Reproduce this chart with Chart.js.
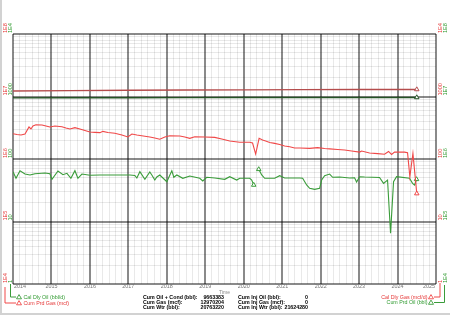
<!DOCTYPE html>
<html><head><meta charset="utf-8">
<script src="https://cdn.jsdelivr.net/npm/chart.js@4/dist/chart.umd.min.js"></script>
<style>html,body{margin:0;padding:0;background:#fff;overflow:hidden}canvas{display:block}</style>
</head><body><canvas id="c" width="450" height="315"></canvas>
<script>
// ---- data (decimal years) ----
const yearLabels = [2014,2015,2016,2017,2018,2019,2020,2021,2022,2023,2024,2025];

const gasRateT = [2014.000,2014.104,2014.208,2014.312,2014.416,2014.468,2014.519,2014.597,2014.753,2014.857,2014.961,2015.091,2015.273,2015.377,2015.481,2015.610,2015.740,2015.870,2016.000,2016.130,2016.260,2016.338,2016.468,2016.649,2016.831,2016.987,2017.091,2017.221,2017.429,2017.558,2017.688,2017.818,2017.948,2018.078,2018.338,2018.468,2018.597,2018.727,2018.987,2019.247,2019.429,2019.636,2019.896,2020.156,2020.230,2020.310,2020.400,2020.490,2020.570,2020.675,2020.805,2020.935,2021.065,2021.195,2021.325,2021.455,2021.714,2021.922,2022.104,2022.234,2022.442,2022.623,2022.805,2023.013,2023.065,2023.273,2023.481,2023.662,2023.766,2023.844,2023.922,2024.052,2024.182,2024.260,2024.320,2024.400,2024.500];
const gasRate  = [254,247,242,251,325,302,337,354,350,337,325,337,329,313,302,317,302,286,270,267,264,277,265,258,242,225,251,242,231,225,217,207,225,236,233,225,214,227,225,222,209,194,185,185,180,120,214,201,194,184,178,171,161,157,150,150,148,152,147,145,142,139,134,129,134,125,122,119,132,118,129,129,129,126,52,123,28];

const oilRateT = [2014.000,2014.078,2014.182,2014.312,2014.442,2014.571,2014.831,2014.961,2015.013,2015.169,2015.299,2015.403,2015.506,2015.610,2015.688,2015.792,2016.000,2016.260,2016.519,2016.779,2017.039,2017.169,2017.221,2017.299,2017.429,2017.558,2017.610,2017.688,2017.740,2017.818,2018.000,2018.130,2018.182,2018.260,2018.416,2018.597,2018.857,2018.935,2019.039,2019.247,2019.506,2019.636,2019.818,2019.896,2020.156,2020.208,2020.260,2020.320,2020.390,2020.468,2020.545,2020.805,2020.935,2021.065,2021.455,2021.532,2021.636,2021.714,2021.844,2021.974,2022.026,2022.104,2022.234,2022.312,2022.494,2022.753,2022.883,2022.935,2023.013,2023.143,2023.532,2023.636,2023.740,2023.818,2023.896,2023.974,2024.312,2024.390,2024.442,2024.494];
const oilRate  = [62.6,49.1,65.0,57.5,55.5,58.2,59.7,58.2,47.3,64.3,56.1,59.0,49.1,65.0,49.1,57.5,54.9,55.5,55.5,55.5,55.5,54.5,49.7,62.6,47.3,61.9,55.5,46.1,51.5,55.5,43.3,65.0,51.0,55.5,49.1,53.5,49.1,44.5,51.0,49.7,47.3,52.1,46.1,49.1,49.1,46.1,38.4,null,68.4,55.5,49.1,49.1,54.1,49.7,49.7,49.1,38.4,34.0,32.7,34.0,46.1,54.1,57.5,51.0,51.5,49.7,50.2,42.9,52.1,51.5,50.6,40.8,46.1,6.5,43.3,52.1,49.1,40.8,38.4,47.3];

const cumT   = [2014.0,2015.5,2017.0,2018.5,2020.0,2021.5,2023.0,2024.5];
const cumGas = [12250000,12420000,12560000,12680000,12780000,12860000,12930000,12970204];
const cumOil = [9500000,9540000,9570000,9600000,9620000,9640000,9655000,9663383];

const cumDecades  = [1e4,1e5,1e6,1e7,1e8];
const rateDecades = [1,10,100,1000,1e4];
const leftRedLabels    = ['1E4','1E5','1E6','1E7','1E8'];
const leftGreenLabels  = ['1','10','100','1000','1E4'];
const rightRedLabels   = ['1','10','100','1000','1E4'];
const rightGreenLabels = ['1E4','1E5','1E6','1E7','1E8'];

const statsLeft  = [['Cum Oil + Cond (bbl):','9663383'],['Cum Gas (mcf):','12970204'],['Cum Wtr (bbl):','20763220']];
const statsRight = [['Cum Inj Oil (bbl):','0'],['Cum Inj Gas (mcf):','0'],['Cum Inj Wtr (bbl):','21624280']];

// ---- styles ----
const RED = '#f04848', GREEN = '#3a9c3a', CUMRED = '#b44c4c', CUMGREEN = '#245224';
const TXTRED = '#e53535', TXTGREEN = '#2f9a2f';
const FONT = '"Liberation Sans", Arial, sans-serif';
const MAJOR = 'rgba(0,0,0,0.46)', MINOR = 'rgba(0,0,0,0.085)';

const pts = (t, v) => t.map((x, i) => ({x, y: v[i]}));
const isDecade = v => Math.abs(Math.log10(v) - Math.round(Math.log10(v))) < 1e-9;

function logTicks(lo, hi) {
  const out = [];
  for (let e = Math.round(Math.log10(lo)); e < Math.round(Math.log10(hi)); e++)
    for (let m = 1; m <= 9; m++) out.push({value: m * Math.pow(10, e)});
  out.push({value: hi});
  return out;
}
function lastOnly(ctx) { return ctx.dataIndex === ctx.dataset.data.length - 1 ? 2.6 : 0; }
function segEnds(ctx) {
  const d = ctx.dataset.data, i = ctx.dataIndex;
  if (d[i].y == null) return 0;
  if (i === d.length - 1) return 2.6;
  if (d[i + 1] && d[i + 1].y == null) return 2.6;
  if (i > 0 && d[i - 1].y == null) return 2.6;
  return 0;
}
function line(label, data, axis, color, w, rad) {
  return {label, data, yAxisID: axis, borderColor: color, borderWidth: w, tension: 0,
    spanGaps: false, pointStyle: 'triangle', pointRadius: rad, pointBorderColor: color,
    pointBackgroundColor: '#fff', pointBorderWidth: 1, fill: false};
}

const deco = {
  id: 'deco',
  beforeDraw(chart) {
    const c = chart.ctx; c.save();
    c.fillStyle = '#fff'; c.fillRect(0, 0, 450, 315);
    c.fillStyle = '#d2d2d2'; c.fillRect(0, 0, 2, 315); c.fillRect(0, 313, 450, 2);
    c.restore();
  },
  afterDraw(chart) {
    const c = chart.ctx, s = chart.scales, a = chart.chartArea;
    c.save();
    const vlabel = (txt, x, y, col) => {
      c.save(); c.translate(x, y); c.rotate(-Math.PI / 2);
      c.fillStyle = col; c.font = '5.6px ' + FONT; c.textAlign = 'left'; c.textBaseline = 'middle';
      c.fillText(txt, 1, 0); c.restore();
    };
    cumDecades.forEach((v, i) => vlabel(leftRedLabels[i], 5, s.yG.getPixelForValue(v), TXTRED));
    rateDecades.forEach((v, i) => vlabel(leftGreenLabels[i], 10.5, s.yO.getPixelForValue(v), TXTGREEN));
    rateDecades.forEach((v, i) => vlabel(rightRedLabels[i], 440, s.yR.getPixelForValue(v), TXTRED));
    cumDecades.forEach((v, i) => vlabel(rightGreenLabels[i], 445, s.yC.getPixelForValue(v), TXTGREEN));

    // x labels
    c.font = '5.4px ' + FONT; c.fillStyle = '#777'; c.textAlign = 'center'; c.textBaseline = 'middle';
    yearLabels.forEach(y => {
      const t = String(y), w = c.measureText(t).width;
      let x = s.x.getPixelForValue(y);
      x = Math.min(Math.max(x, a.left + w / 2 + 1), a.right - w / 2 - 1);
      c.fillText(t, x, 286.5);
    });
    c.font = '5px ' + FONT; c.fillStyle = '#8a8a8a';
    c.fillText('Time', (a.left + a.right) / 2, 292.5);

    // stats
    c.font = 'bold 5.3px ' + FONT; c.fillStyle = '#000';
    const rowsY = [297.3, 302.3, 307.3];
    statsLeft.forEach((r, i) => {
      c.textAlign = 'left'; c.fillText(r[0], 143, rowsY[i]);
      c.textAlign = 'right'; c.fillText(r[1], 224, rowsY[i]);
    });
    statsRight.forEach((r, i) => {
      c.textAlign = 'left'; c.fillText(r[0], 238, rowsY[i]);
      c.textAlign = 'right'; c.fillText(r[1], 308, rowsY[i]);
    });

    // legends with connectors
    const tri = (x, y, col) => {
      c.beginPath(); c.moveTo(x, y - 2.4); c.lineTo(x + 2.5, y + 1.8); c.lineTo(x - 2.5, y + 1.8); c.closePath();
      c.fillStyle = '#fff'; c.fill(); c.strokeStyle = col; c.lineWidth = 0.9; c.stroke();
    };
    const conn = (pts, col) => {
      c.beginPath(); c.moveTo(pts[0][0], pts[0][1]);
      for (let i = 1; i < pts.length; i++) c.lineTo(pts[i][0], pts[i][1]);
      c.strokeStyle = col; c.lineWidth = 1; c.stroke();
    };
    conn([[10.5, 284], [10.5, 297], [16, 297]], GREEN);
    conn([[5, 287], [5, 303], [16, 303]], RED);
    tri(19, 297, GREEN); tri(19, 303, RED);
    c.font = '5.3px ' + FONT; c.textAlign = 'left';
    c.fillStyle = TXTGREEN; c.fillText('Cal Dly Oil (bbl/d)', 23.5, 297.3);
    c.fillStyle = TXTRED; c.fillText('Cum Prd Gas (mcf)', 23.5, 303.3);

    conn([[440, 283], [440, 297], [434, 297]], RED);
    conn([[444.5, 285], [444.5, 302.5], [434, 302.5]], GREEN);
    tri(431, 297, RED); tri(431, 302.5, GREEN);
    c.textAlign = 'right';
    c.fillStyle = TXTRED; c.fillText('Cal Dly Gas (mcf/d)', 427.5, 297.3);
    c.fillStyle = TXTGREEN; c.fillText('Cum Prd Oil (bbl)', 427.5, 302.8);
    c.restore();
  }
};

const logGrid = {
  color: ctx => ctx.tick && isDecade(ctx.tick.value) ? MAJOR : MINOR,
  lineWidth: ctx => ctx.tick && isDecade(ctx.tick.value) ? 2 : 1,
  drawTicks: false
};

new Chart(document.getElementById('c'), {
  type: 'line',
  data: {
    datasets: [
      line('Cum Prd Gas (mcf)', pts(cumT, cumGas), 'yG', CUMRED, 1.4, lastOnly),
      line('Cum Prd Oil (bbl)', pts(cumT, cumOil), 'yC', CUMGREEN, 1.4, lastOnly),
      line('Cal Dly Gas (mcf/d)', pts(gasRateT, gasRate), 'yR', RED, 1.1, lastOnly),
      line('Cal Dly Oil (bbl/d)', pts(oilRateT, oilRate), 'yO', GREEN, 1.1, segEnds)
    ]
  },
  options: {
    responsive: false, animation: false, devicePixelRatio: 1, events: [],
    layout: {padding: {left: 13, right: 14, top: 34, bottom: 0}},
    plugins: {legend: {display: false}, tooltip: {enabled: false}},
    scales: {
      x: {
        type: 'linear', position: 'bottom', min: 2014, max: 2025,
        afterBuildTicks: sc => {
          const t = [];
          yearLabels.forEach((y, i) => { for (let k = 0; k < 6; k++) if (i < yearLabels.length - 1 || k === 0) t.push({value: y + k / 6}); });
          sc.ticks = t;
        },
        afterFit: sc => { sc.height = 31; },
        ticks: {display: false},
        border: {display: false},
        grid: {
          color: ctx => ctx.tick && Number.isInteger(ctx.tick.value) ? MAJOR : MINOR,
          lineWidth: ctx => ctx.tick && Number.isInteger(ctx.tick.value) ? 2 : 1,
          drawTicks: false
        }
      },
      yG: {type: 'logarithmic', position: 'left', min: 1e4, max: 1e8,
        afterBuildTicks: sc => { sc.ticks = logTicks(1e4, 1e8); },
        afterFit: sc => { sc.width = 0; },
        ticks: {display: false}, border: {display: false}, grid: logGrid},
      yO: {type: 'logarithmic', position: 'left', min: 1, max: 1e4, display: false},
      yR: {type: 'logarithmic', position: 'right', min: 1, max: 1e4, display: false},
      yC: {type: 'logarithmic', position: 'right', min: 1e4, max: 1e8, display: false}
    }
  },
  plugins: [deco]
});
</script>
</body></html>
